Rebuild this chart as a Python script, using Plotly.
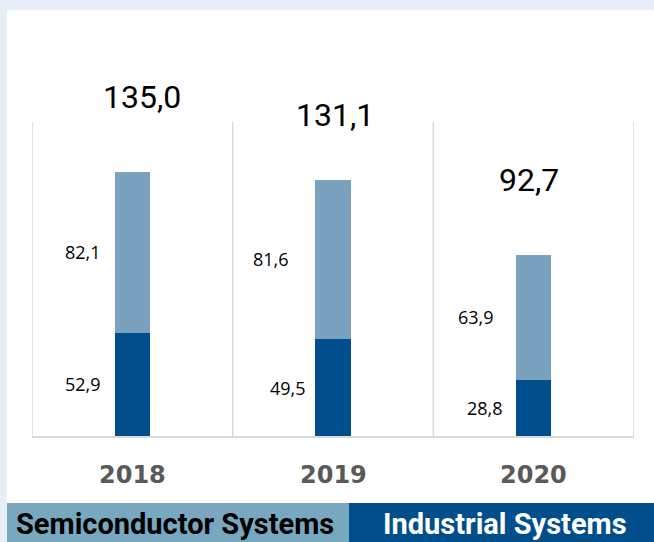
import plotly.graph_objects as go

years = ["2018", "2019", "2020"]
industrial = [52.9, 49.5, 28.8]      # dark, bottom
semiconductor = [82.1, 81.6, 63.9]   # light, top
totals = [135.0, 131.1, 92.7]

def fmt(v):
    return f"{v:.1f}".replace(".", ",")

DARK = "#004f8c"
LIGHT = "#7aa2bf"
LEG_LIGHT = "#78a8c0"
BG = "#e7eef5"
GRID = "#d9d9d9"

# plot area in pixels
L, R, T, B = 32, 654 - 634, 122, 542 - 436
W = 654 - L - R
H = 542 - T - B

def px(x):
    return (x - L) / W

def py(y):
    return (T + H - y) / H

fig = go.Figure()
xs = list(range(len(years)))
fig.add_trace(go.Bar(x=xs, y=industrial, marker_color=DARK, width=0.175,
                     name="Industrial Systems", marker_line_width=0))
fig.add_trace(go.Bar(x=xs, y=semiconductor, marker_color=LIGHT, width=0.175,
                     name="Semiconductor Systems", marker_line_width=0))

shapes = []
shapes.append(dict(type="rect", xref="paper", yref="paper", x0=px(7), x1=px(654),
                   y0=py(503), y1=py(10), fillcolor="white", line_width=0, layer="below"))
shapes.append(dict(type="rect", xref="paper", yref="paper", x0=px(7), x1=px(349),
                   y0=py(542), y1=py(503), fillcolor=LEG_LIGHT, line_width=0, layer="below"))
shapes.append(dict(type="rect", xref="paper", yref="paper", x0=px(349), x1=px(654),
                   y0=py(542), y1=py(503), fillcolor=DARK, line_width=0, layer="below"))
for xv in [-0.5, 0.5, 1.5, 2.5]:
    shapes.append(dict(type="line", xref="x", yref="paper", x0=xv, x1=xv, y0=0, y1=1,
                       line=dict(color=GRID, width=1.5), layer="below"))

annotations = []
dark_shift = [-49, -45, -49]
light_shift = [-49, -62, -58]
for i in xs:
    annotations.append(dict(x=i, y=industrial[i] / 2, xref="x", yref="y", text=fmt(industrial[i]),
                            showarrow=False, xshift=dark_shift[i], xanchor="center", yanchor="middle",
                            font=dict(family="Open Sans", size=18, color="#000")))
    annotations.append(dict(x=i, y=industrial[i] + semiconductor[i] / 2, xref="x", yref="y",
                            text=fmt(semiconductor[i]), showarrow=False, xshift=light_shift[i],
                            xanchor="center", yanchor="middle",
                            font=dict(family="Open Sans", size=18, color="#000")))
tot_shift_x = [10, 2, -5]
tot_shift_y = [75, 65, 75]
for i in xs:
    annotations.append(dict(x=i, y=totals[i], xref="x", yref="y", text=fmt(totals[i]),
                            showarrow=False, xshift=tot_shift_x[i], yshift=tot_shift_y[i],
                            xanchor="center", yanchor="middle",
                            font=dict(family="Roboto", size=32, color="#000")))
for i in xs:
    annotations.append(dict(x=i, y=0, xref="x", yref="y", text=years[i], showarrow=False,
                            yshift=-39, xanchor="center", yanchor="middle",
                            font=dict(family="DejaVu Sans", size=24, color="#595959",
                                      weight="bold")))
annotations.append(dict(x=px(175), y=py(524), xref="paper", yref="paper",
                        text="<b>Semiconductor Systems</b>", showarrow=False,
                        xanchor="center", yanchor="middle",
                        font=dict(family="Roboto", size=29, color="#000")))
annotations.append(dict(x=px(505), y=py(524), xref="paper", yref="paper",
                        text="<b>Industrial Systems</b>", showarrow=False,
                        xanchor="center", yanchor="middle",
                        font=dict(family="Roboto", size=29, color="#fff")))

fig.update_layout(
    width=654, height=542,
    margin=dict(l=L, r=R, t=T, b=B, pad=0),
    barmode="stack",
    showlegend=False,
    paper_bgcolor=BG,
    plot_bgcolor="rgba(0,0,0,0)",
    shapes=shapes,
    annotations=annotations,
    xaxis=dict(range=[-0.5, 2.5], showgrid=False, zeroline=False, showticklabels=False,
               showline=True, linecolor=GRID, linewidth=1.5, fixedrange=True),
    yaxis=dict(range=[0, 160.6], showgrid=False, zeroline=False, showticklabels=False,
               showline=False, fixedrange=True),
)

fig.write_html("out.html", config={"displayModeBar": False},
               post_script="document.body.style.margin='0';document.body.style.overflow='hidden';")
